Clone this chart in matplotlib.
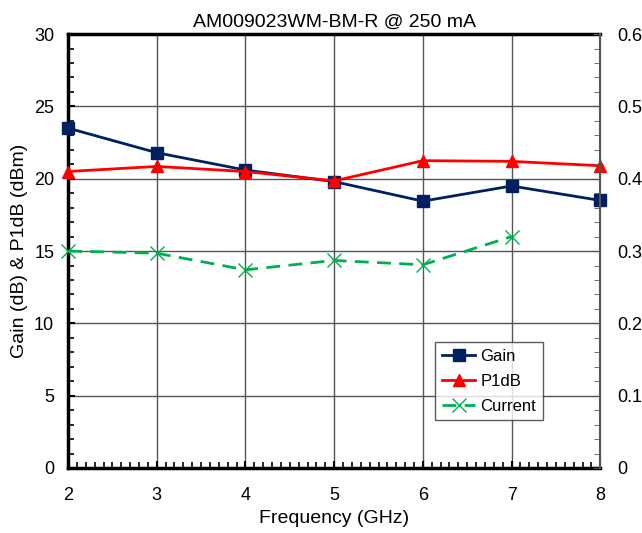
import matplotlib
matplotlib.use('Agg')

import matplotlib.pyplot as plt
from matplotlib.ticker import MultipleLocator, FuncFormatter

freq = [2, 3, 4, 5, 6, 7, 8]
gain = [23.5, 21.8, 20.6, 19.8, 18.45, 19.5, 18.5]
p1db = [20.5, 20.85, 20.5, 19.85, 21.25, 21.2, 20.9]
current_freq = [2, 3, 4, 5, 6, 7]
current = [0.300, 0.297, 0.274, 0.287, 0.281, 0.320]

plt.rcParams['font.family'] = ['Arial', 'Liberation Sans', 'DejaVu Sans']

fig = plt.figure(figsize=(6.42, 5.33), dpi=100)
ax = fig.add_axes([0.106, 0.122, 0.829, 0.814])
ax2 = ax.twinx()

ax.grid(True, color='#555555', linewidth=1.0)
ax.set_axisbelow(True)

l1, = ax.plot(freq, gain, color='#002060', linewidth=2, marker='s',
              markersize=9, label='Gain', clip_on=False, zorder=4)
l2, = ax.plot(freq, p1db, color='#ff0000', linewidth=2, marker='^',
              markersize=9, label='P1dB', clip_on=False, zorder=4)
l3, = ax2.plot(current_freq, current, color='#00b050', linewidth=2,
               linestyle=(0, (5, 3)), marker='x', markersize=10,
               markeredgewidth=1, label='Current', clip_on=False)

ax.set_xlim(2, 8)
ax.set_ylim(0, 30)
ax2.set_ylim(0, 0.6)
ax.xaxis.set_major_locator(MultipleLocator(1))
ax.xaxis.set_minor_locator(MultipleLocator(0.1))
ax.yaxis.set_major_locator(MultipleLocator(5))
ax.yaxis.set_minor_locator(MultipleLocator(1))
ax2.yaxis.set_major_locator(MultipleLocator(0.1))
ax2.yaxis.set_minor_locator(MultipleLocator(0.02))
ax2.yaxis.set_major_formatter(FuncFormatter(lambda v, p: '0' if abs(v) < 1e-9 else '%.1f' % v))

ax.tick_params(which='both', direction='in', labelsize=13)
ax.tick_params(axis='x', pad=14)
ax.tick_params(axis='y', pad=10)
ax.tick_params(which='major', length=5, width=1.5)
ax.tick_params(which='minor', length=4, width=1.2)
ax2.tick_params(which='both', direction='in', labelsize=13, pad=12, color='#555555')
ax2.tick_params(which='major', length=5)
ax2.tick_params(which='minor', length=4)

for side in ['left', 'bottom', 'top']:
    ax.spines[side].set_linewidth(2.5)
ax2.spines['right'].set_color('#555555')
ax2.spines['right'].set_linewidth(1.5)
for side in ['left', 'bottom', 'top']:
    ax2.spines[side].set_visible(False)

ax.set_xlabel('Frequency (GHz)', fontsize=14, labelpad=4)
ax.set_ylabel('Gain (dB) & P1dB (dBm)', fontsize=14, labelpad=4)
ax.set_title('AM009023WM-BM-R @ 250 mA', fontsize=14, pad=5)

leg = ax2.legend([l1, l2, l3], ['Gain', 'P1dB', 'Current'],
                 loc='lower left', bbox_to_anchor=(0.69, 0.11),
                 borderaxespad=0, fontsize=12, frameon=True, fancybox=False,
                 edgecolor='#333333', handlelength=2.0, borderpad=0.4,
                 labelspacing=0.6, handletextpad=0.3)
leg.get_frame().set_linewidth(1.0)

fig.savefig('out.png', dpi=100)
